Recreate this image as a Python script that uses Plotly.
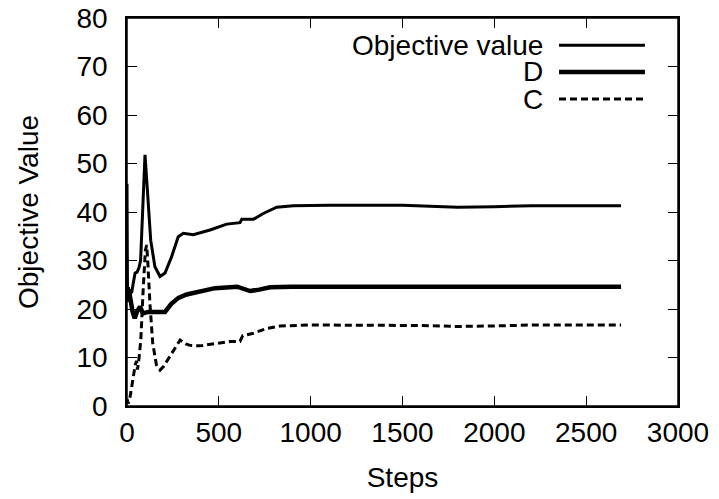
import plotly.graph_objects as go

# ---- data ----
obj_steps = [0, 3, 8, 13, 18, 25, 35, 44, 55, 65, 74, 85, 98, 111, 129, 152, 180, 207, 243, 279,
             307, 361, 452, 543, 615, 625, 688, 742, 815, 906, 1100, 1500, 1650, 1800, 2000, 2200, 2690]
obj_vals = [45.8, 21.5, 24.5, 22.0, 24.0, 23.3, 25.5, 27.4, 27.6, 28.5, 30.0, 41.0, 51.8, 44.5, 34.2,
            28.7, 26.7, 27.4, 30.8, 34.9, 35.6, 35.3, 36.3, 37.5, 37.8, 38.5, 38.5, 39.7, 41.0, 41.3,
            41.4, 41.4, 41.2, 41.0, 41.1, 41.3, 41.3]

d_steps = [0, 5, 10, 18, 30, 42, 55, 71, 87, 116, 207, 240, 280, 325, 400, 479, 600, 640, 670, 720,
           779, 900, 2690]
d_vals = [23.5, 21.5, 24.0, 21.5, 19.5, 18.1, 19.5, 20.5, 19.1, 19.4, 19.4, 21.0, 22.3, 23.0, 23.7,
          24.3, 24.6, 24.2, 23.7, 24.0, 24.5, 24.6, 24.6]

c_steps = [0, 6, 15, 25, 35, 45, 52, 57, 63, 75, 88, 100, 107, 113, 125, 140, 160, 180, 200, 234,
           270, 289, 320, 343, 397, 470, 561, 615, 630, 688, 761, 833, 1000, 1600, 1800, 2000, 2200, 2690]
c_vals = [1.5, 0.5, 1.5, 4.0, 7.0, 8.5, 9.3, 7.5, 9.0, 13.5, 24.0, 32.0, 33.2, 30.0, 21.0, 13.0, 8.5,
          7.4, 8.2, 10.2, 12.5, 13.6, 12.8, 12.5, 12.4, 12.8, 13.3, 13.3, 14.5, 15.0, 16.0, 16.5, 16.7,
          16.6, 16.4, 16.5, 16.7, 16.7]

x_ticks = [0, 500, 1000, 1500, 2000, 2500, 3000]
y_ticks = [0, 10, 20, 30, 40, 50, 60, 70, 80]
series_names = ["Objective value", "D", "C"]

FONT = "Liberation Sans, Arial, sans-serif"
FS = 28

fig = go.Figure()
fig.add_trace(go.Scatter(x=obj_steps, y=obj_vals, mode="lines", name=series_names[0],
                         line=dict(color="black", width=3)))
fig.add_trace(go.Scatter(x=d_steps, y=d_vals, mode="lines", name=series_names[1],
                         line=dict(color="black", width=4.5)))
fig.add_trace(go.Scatter(x=c_steps, y=c_vals, mode="lines", name=series_names[2],
                         line=dict(color="black", width=3, dash="7px,4px")))

# manual gnuplot-style legend: text on the left, sample line on the right
leg_y = [0.930, 0.861, 0.791]
leg_styles = [dict(width=3), dict(width=4.5), dict(width=3, dash="7px,4px")]
for name, yy, st in zip(series_names, leg_y, leg_styles):
    fig.add_annotation(x=0.759, y=yy, xref="paper", yref="paper", text=name, showarrow=False,
                       xanchor="right", yanchor="middle", font=dict(family=FONT, size=FS, color="black"))
    fig.add_shape(type="line", xref="paper", yref="paper", x0=0.784, x1=0.940, y0=yy, y1=yy,
                  line=dict(color="black", **st))

# plot frame
fig.add_shape(type="rect", xref="paper", yref="paper", x0=0, x1=1, y0=0, y1=1,
              line=dict(color="black", width=1.5), layer="above")

axis_common = dict(showline=True, linecolor="black", linewidth=1.5, mirror="ticks",
                   ticks="inside", ticklen=10, tickwidth=1, tickcolor="black",
                   showgrid=False, zeroline=False, automargin=False, ticklabeloverflow="allow",
                   tickfont=dict(family=FONT, size=FS, color="black"))

# the page body has an 8px default margin; size the figure so it fits the window
fig.update_layout(
    width=711, height=491,
    margin=dict(l=119, r=41, t=10, b=93),
    paper_bgcolor="white", plot_bgcolor="white",
    showlegend=False,
    xaxis=dict(range=[0, 3000], tickvals=x_ticks, ticktext=[str(v) for v in x_ticks],
               title=dict(text="Steps", font=dict(family=FONT, size=FS, color="black"), standoff=20),
               ticklabelstandoff=1, **axis_common),
    yaxis=dict(range=[0, 80], tickvals=y_ticks, ticktext=[str(v) for v in y_ticks],
               title=dict(text="Objective Value", font=dict(family=FONT, size=FS, color="black"), standoff=30),
               ticklabelstandoff=12, **axis_common),
)

fig.write_html("out.html")
